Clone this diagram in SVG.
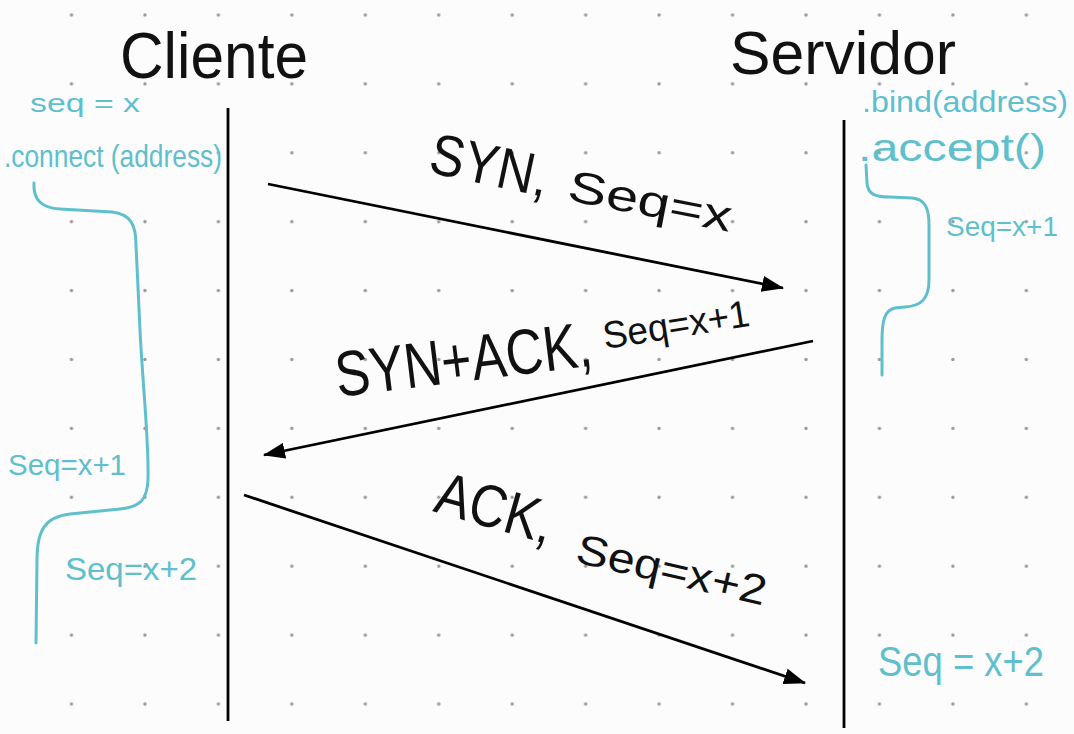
<svg xmlns="http://www.w3.org/2000/svg" width="1074" height="734" viewBox="0 0 1074 734">
<defs>
<pattern id="dots" patternUnits="userSpaceOnUse" x="34.775" y="-19.45" width="73.45" height="68.9">
<circle cx="36.725" cy="34.45" r="1.7" fill="#9a9a9a"/>
</pattern>
<marker id="arrow" viewBox="0 0 22 16" refX="21" refY="8" markerWidth="22" markerHeight="16" markerUnits="userSpaceOnUse" orient="auto">
<path d="M0,0 L22,8 L0,16 z" fill="#000"/>
</marker>
</defs>
<style>
.ink{font-family:"Liberation Sans","DejaVu Sans",sans-serif;fill:#111}
.blue{font-family:"Liberation Sans","DejaVu Sans",sans-serif;fill:#5fbfcc}
.life{stroke:#000;stroke-width:2.8;fill:none}
.msg{stroke:#000;stroke-width:2.8;fill:none;marker-end:url(#arrow)}
.brace{stroke:#5fbfcc;stroke-width:3;fill:none;stroke-linecap:round}
</style>
<rect width="1074" height="734" fill="#fcfcfc"/>
<rect width="1074" height="734" fill="url(#dots)"/>

<g id="cliente">
<line class="life" x1="228" y1="108" x2="228" y2="721"/>
<text class="ink" x="120" y="78" font-size="64" textLength="188" lengthAdjust="spacingAndGlyphs">Cliente</text>
</g>

<g id="servidor">
<line class="life" x1="844" y1="120" x2="844" y2="728"/>
<text class="ink" x="730" y="74" font-size="62" textLength="226" lengthAdjust="spacingAndGlyphs">Servidor</text>
</g>

<g id="client-notes">
<text class="blue" x="30" y="112" font-size="26" textLength="110" lengthAdjust="spacingAndGlyphs">seq = x</text>
<text class="blue" x="4" y="167" font-size="32" textLength="218" lengthAdjust="spacingAndGlyphs">.connect (address)</text>
<path class="brace" d="M34,183 C33,200 42,208 60,209 L112,212 C130,214 136,224 136,245 L140,330 C143,390 149,440 148,480 C147,500 140,507 120,509 L70,514 C45,517 37,530 37,560 L36,643"/>
<text class="blue" x="8" y="475" font-size="30" textLength="118" lengthAdjust="spacingAndGlyphs">Seq=x+1</text>
<text class="blue" x="65" y="580" font-size="32" textLength="132" lengthAdjust="spacingAndGlyphs">Seq=x+2</text>
</g>

<g id="server-notes">
<text class="blue" x="862" y="112" font-size="30" textLength="206" lengthAdjust="spacingAndGlyphs">.bind(address)</text>
<text class="blue" x="858" y="161" font-size="38" textLength="188" lengthAdjust="spacingAndGlyphs">.accept()</text>
<path class="brace" d="M866,165 L867,183 C868,194 874,197 890,197 L912,198 C925,199 929,208 929,225 L929,280 C929,298 922,306 905,307 L895,308 C885,310 882,320 882,340 L882,375"/>
<text class="blue" x="946" y="236" font-size="28" textLength="112" lengthAdjust="spacingAndGlyphs">Seq=x+1</text>
<text class="blue" x="878" y="676" font-size="42" textLength="166" lengthAdjust="spacingAndGlyphs">Seq = x+2</text>
</g>

<g id="connectors">
<line class="msg" x1="268" y1="184" x2="783" y2="288"/>
<line class="msg" x1="813" y1="341" x2="264" y2="455"/>
<line class="msg" x1="244" y1="495" x2="805" y2="683"/>
</g>

<g id="labels">
<text class="ink" transform="translate(427,172) rotate(12)" font-size="58" textLength="120" lengthAdjust="spacingAndGlyphs">SYN,</text>
<text class="ink" transform="translate(566,200) rotate(11)" font-size="44" textLength="166" lengthAdjust="spacingAndGlyphs">Seq=x</text>
<text class="ink" transform="translate(338,397) rotate(-7)" font-size="64" textLength="258" lengthAdjust="spacingAndGlyphs">SYN+ACK,</text>
<text class="ink" transform="translate(605,349) rotate(-9)" font-size="38" textLength="148" lengthAdjust="spacingAndGlyphs">Seq=x+1</text>
<text class="ink" transform="translate(432,511) rotate(16)" font-size="60" textLength="120" lengthAdjust="spacingAndGlyphs">ACK,</text>
<text class="ink" transform="translate(574,562) rotate(13)" font-size="42" textLength="194" lengthAdjust="spacingAndGlyphs">Seq=x+2</text>
</g>
</svg>
